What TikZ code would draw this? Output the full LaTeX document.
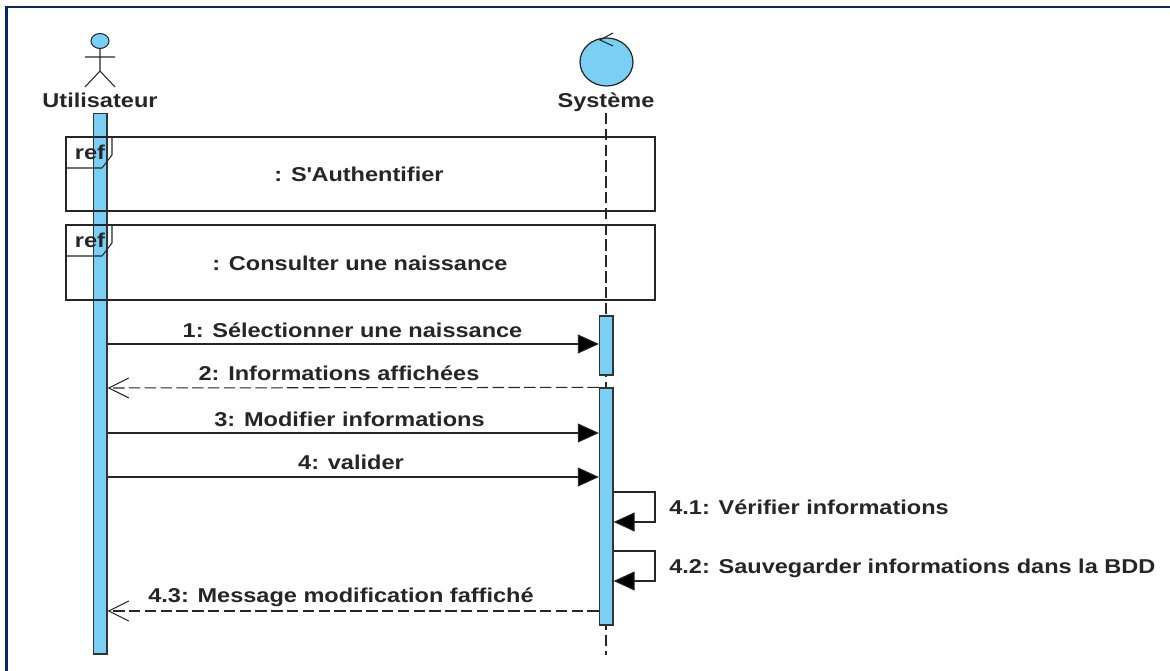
\documentclass[tikz,border=0pt]{standalone}
\usepackage{fontspec}
\setmainfont[FakeStretch=1.175]{Liberation Sans}
\usetikzlibrary{arrows.meta,shapes.geometric}
\definecolor{barblue}{HTML}{7ACFF5}
\definecolor{framenavy}{HTML}{0A2468}
\tikzset{
  lbl/.style = {font=\fontsize{11.4pt}{13pt}\selectfont\bfseries, text=black!85, inner sep=0pt, text height=8.2pt, text depth=0pt},
  bar/.style = {draw=black!80, fill=barblue, line width=0.7pt, minimum width=13.5*0.02cm, inner sep=0pt},
  msg/.style = {draw=black!85, line width=0.6pt, -{Triangle[length=0.42cm,width=0.38cm,fill=black]}},
  ret/.style = {draw=black!85, line width=0.6pt, dash pattern=on 6.5pt off 2.5pt, -{Straight Barb[length=0.4cm,width=0.4cm,line width=0.6pt]}},
}
\begin{document}
\begin{tikzpicture}[x=0.02cm, y=-0.02cm]
\useasboundingbox (0,0) rectangle (1170,671);
% page frame
\draw [framenavy, line width=1.4pt] (6.5,671) -- (6.5,7) -- (1170,7);
% actor
\draw [black!85, line width=0.6pt, fill=barblue] (100,41) ellipse [x radius=9, y radius=7.5];
\draw [black!85, line width=0.6pt] (100,48.5) -- (100,71) (85,57) -- (115,57) (85,87) -- (100,71) -- (115,87);
\node [lbl] (user) at (100,100) {Utilisateur};
% control object
\node [draw=black!85, line width=0.7pt, fill=barblue, ellipse, minimum width=53*0.02cm, minimum height=48*0.02cm, inner sep=0pt] (ctrl) at (606.5,62) {};
\draw [black!85, line width=0.6pt] (613,33) -- (600,40) -- (613,46);
\node [lbl] (sys) at (606,100) {Système};
% lifeline and bars
\coordinate (lifeTop) at (606,113);
\coordinate (lifeEnd) at (606,655);
\node [bar, minimum height=540.5*0.02cm] (barU) at (100.25,383.75) {};
\draw [black!85, line width=0.6pt, dash pattern=on 6.5pt off 2.5pt] (lifeTop) -- (lifeEnd);
\node [bar, minimum height=59*0.02cm] (barA) at (606.25,345.5) {};
\node [bar, minimum height=237*0.02cm] (barB) at (606.25,506.5) {};
% ref frames
\draw [black!85, line width=0.6pt] (66,137) rectangle (655,211);
\draw [black!85, line width=0.6pt] (66,225) rectangle (655,300);
\draw [black!85, line width=0.6pt] (66,168) -- (102,168) -- (112,155) -- (112,137);
\draw [black!85, line width=0.6pt] (66,256) -- (102,256) -- (112,243) -- (112,225);
\node [lbl] (refA) at (90,152) {ref};
\node [lbl] (refB) at (90,240) {ref};
\node [lbl] (auth) at (359,174) {: S\textquotesingle Authentifier};
\node [lbl] (consult) at (360,263) {: Consulter une naissance};
% messages
\coordinate (m1) at (0,344);
\coordinate (m2) at (0,388);
\coordinate (m3) at (0,433);
\coordinate (m4) at (0,477);
\coordinate (m5) at (0,611);
\draw [msg] (barU.east |- m1) -- (barA.west |- m1);
\node [lbl] (t1) at (352.5,330) {1: Sélectionner une naissance};
\draw [ret] (barB.north west) -- (barU.east |- m2);
\node [lbl] (t2) at (339,373.5) {2: Informations affichées};
\draw [msg] (barU.east |- m3) -- (barB.west |- m3);
\node [lbl] (t3) at (349.5,419) {3: Modifier informations};
\draw [msg] (barU.east |- m4) -- (barB.west |- m4);
\node [lbl] (t4) at (351,462.5) {4: valider};
\coordinate (s1) at (0,492);
\coordinate (s2) at (0,522);
\coordinate (s3) at (0,551);
\coordinate (s4) at (0,581);
\draw [msg] (barB.east |- s1) -- (655,492) -- (655,522) -- (barB.east |- s2);
\node [lbl, anchor=west] (t41) at (669,507) {4.1: Vérifier informations};
\draw [msg] (barB.east |- s3) -- (655,551) -- (655,581) -- (barB.east |- s4);
\node [lbl, anchor=west] (t42) at (669,566) {4.2: Sauvegarder informations dans la BDD};
\draw [ret] (barB.west |- m5) -- (barU.east |- m5);
\node [lbl] (t43) at (341,595) {4.3: Message modification faffiché};
\end{tikzpicture}
\end{document}
